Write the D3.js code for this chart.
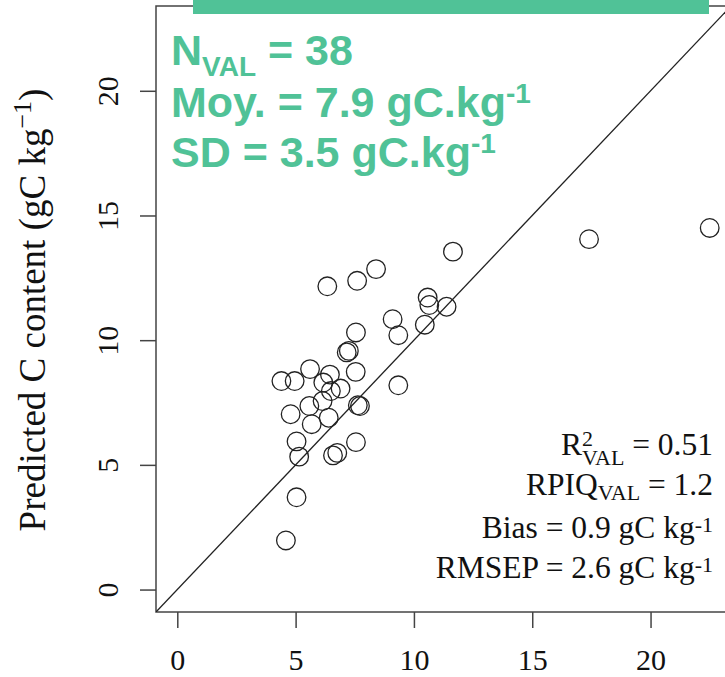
<!DOCTYPE html>
<html>
<head>
<meta charset="utf-8">
<script src="https://cdn.jsdelivr.net/npm/d3@7"></script>
<style>
  body { margin: 0; background: #fff; }
  svg { display: block; }
</style>
</head>
<body>
<svg id="chart"></svg>
<script>
// observed (x) and predicted (y) C content, gC/kg
var observed  = [17.4, 22.5, 11.65, 8.4, 10.58, 10.65, 11.38, 9.1, 9.34, 10.46,
                 7.55, 7.16, 7.25, 4.4, 4.96, 5.61, 6.45, 6.17, 6.49, 6.9,
                 7.54, 6.14, 5.58, 4.79, 5.68, 6.4, 7.63, 7.72, 9.34, 5.04,
                 5.15, 7.55, 6.58, 6.76, 5.04, 4.59, 6.34, 7.6];
var predicted = [14.05, 14.5, 13.55, 12.85, 11.71, 11.41, 11.34, 10.84, 10.2, 10.62,
                 10.31, 9.51, 9.57, 8.36, 8.36, 8.84, 8.62, 8.3, 7.96, 8.06,
                 8.73, 7.56, 7.36, 7.03, 6.63, 6.89, 7.39, 7.36, 8.19, 5.94,
                 5.33, 5.91, 5.38, 5.48, 3.7, 1.97, 12.16, 12.38];
var tickValues = [0, 5, 10, 15, 20];
var axisLimits = [-0.9, 23.4];

var green = "#50c297";
var ink = "#222";
var serif = "'Liberation Serif', 'Times New Roman', serif";

var svg = d3.select("#chart")
    .attr("width", 725)
    .attr("height", 677);

var x = d3.scaleLinear().domain(axisLimits).range([156, 731]);
var y = d3.scaleLinear().domain(axisLimits).range([612, 6]);

svg.append("clipPath").attr("id", "plotclip")
    .append("rect")
    .attr("x", x.range()[0]).attr("y", y.range()[1])
    .attr("width", x.range()[1] - x.range()[0])
    .attr("height", y.range()[0] - y.range()[1]);

// box
svg.append("rect")
    .attr("x", x.range()[0]).attr("y", y.range()[1])
    .attr("width", x.range()[1] - x.range()[0])
    .attr("height", y.range()[0] - y.range()[1])
    .attr("fill", "none")
    .attr("stroke", "#444")
    .attr("stroke-width", 1.5);

// axes
var xAxis = svg.append("g")
    .attr("transform", "translate(0," + y.range()[0] + ")")
    .call(d3.axisBottom(x).tickValues(tickValues).tickSize(16));
xAxis.select(".domain").remove();
xAxis.selectAll("line").attr("stroke", "#444").attr("stroke-width", 1.5);
xAxis.selectAll("text")
    .attr("dy", null)
    .attr("y", 58)
    .attr("fill", "#111")
    .style("font-family", serif)
    .style("font-size", "30px");

var yAxis = svg.append("g")
    .attr("transform", "translate(" + x.range()[0] + ",0)")
    .call(d3.axisLeft(y).tickValues(tickValues).tickSize(16));
yAxis.select(".domain").remove();
yAxis.selectAll("line").attr("stroke", "#444").attr("stroke-width", 1.5);
yAxis.selectAll("text")
    .attr("x", null).attr("dy", null)
    .attr("text-anchor", "middle")
    .attr("transform", "translate(-38,0) rotate(-90)")
    .attr("fill", "#111")
    .style("font-family", serif)
    .style("font-size", "30px");

// y label
var ylab = svg.append("text")
    .attr("transform", "translate(45,310) rotate(-90)")
    .attr("text-anchor", "middle")
    .attr("fill", "#111")
    .style("font-family", serif)
    .style("font-size", "37px");
ylab.append("tspan").text("Predicted C content (gC kg");
ylab.append("tspan").attr("dy", -14).style("font-size", "26px").text("\u22121");
ylab.append("tspan").attr("dy", 14).text(")");

// 1:1 line and points
var plot = svg.append("g").attr("clip-path", "url(#plotclip)");
plot.append("line")
    .attr("x1", x(axisLimits[0])).attr("y1", y(axisLimits[0]))
    .attr("x2", x(axisLimits[1])).attr("y2", y(axisLimits[1]))
    .attr("stroke", ink).attr("stroke-width", 1.3);

plot.selectAll("circle")
    .data(observed)
    .enter().append("circle")
    .attr("cx", function(d) { return x(d); })
    .attr("cy", function(d, i) { return y(predicted[i]); })
    .attr("r", 9.3)
    .attr("fill", "none")
    .attr("stroke", ink)
    .attr("stroke-width", 1.3);

// green banner + summary text
svg.append("rect")
    .attr("x", 193).attr("y", 0)
    .attr("width", 516).attr("height", 14)
    .attr("fill", green);

function greenLine(yy) {
    return svg.append("text")
        .attr("x", 171).attr("y", yy)
        .attr("fill", green)
        .style("font-family", "'Liberation Sans', Arial, sans-serif")
        .style("font-weight", "bold")
        .style("font-size", "43px");
}
var l1 = greenLine(65);
l1.append("tspan").text("N");
l1.append("tspan").attr("dy", 11).style("font-size", "28px").text("VAL");
l1.append("tspan").attr("dy", -11).text(" = 38");
var l2 = greenLine(117);
l2.append("tspan").text("Moy. = 7.9 gC.kg");
l2.append("tspan").attr("dy", -14).style("font-size", "28px").text("-1");
var l3 = greenLine(167);
l3.append("tspan").text("SD = 3.5 gC.kg");
l3.append("tspan").attr("dy", -14).style("font-size", "28px").text("-1");

// stats, right aligned
function statLine(yy) {
    return svg.append("text")
        .attr("x", 713).attr("y", yy)
        .attr("text-anchor", "end")
        .attr("fill", "#111")
        .style("font-family", serif)
        .style("font-size", "31.5px");
}
var s1 = statLine(455);
s1.append("tspan").text("R");
s1.append("tspan").attr("dy", -9).style("font-size", "22px").text("2");
s1.append("tspan").attr("dx", -11).attr("dy", 19).style("font-size", "22px").text("VAL");
s1.append("tspan").attr("dy", -10).text(" = 0.51");

var s2 = statLine(495);
s2.append("tspan").text("RPIQ");
s2.append("tspan").attr("dy", 5).style("font-size", "22px").text("VAL");
s2.append("tspan").attr("dy", -5).text(" = 1.2");

var s3 = statLine(538);
s3.append("tspan").text("Bias = 0.9 gC kg");
s3.append("tspan").attr("dy", -6).style("font-size", "22px").text("-1");

var s4 = statLine(578);
s4.append("tspan").text("RMSEP = 2.6 gC kg");
s4.append("tspan").attr("dy", -6).style("font-size", "22px").text("-1");
</script>
</body>
</html>
